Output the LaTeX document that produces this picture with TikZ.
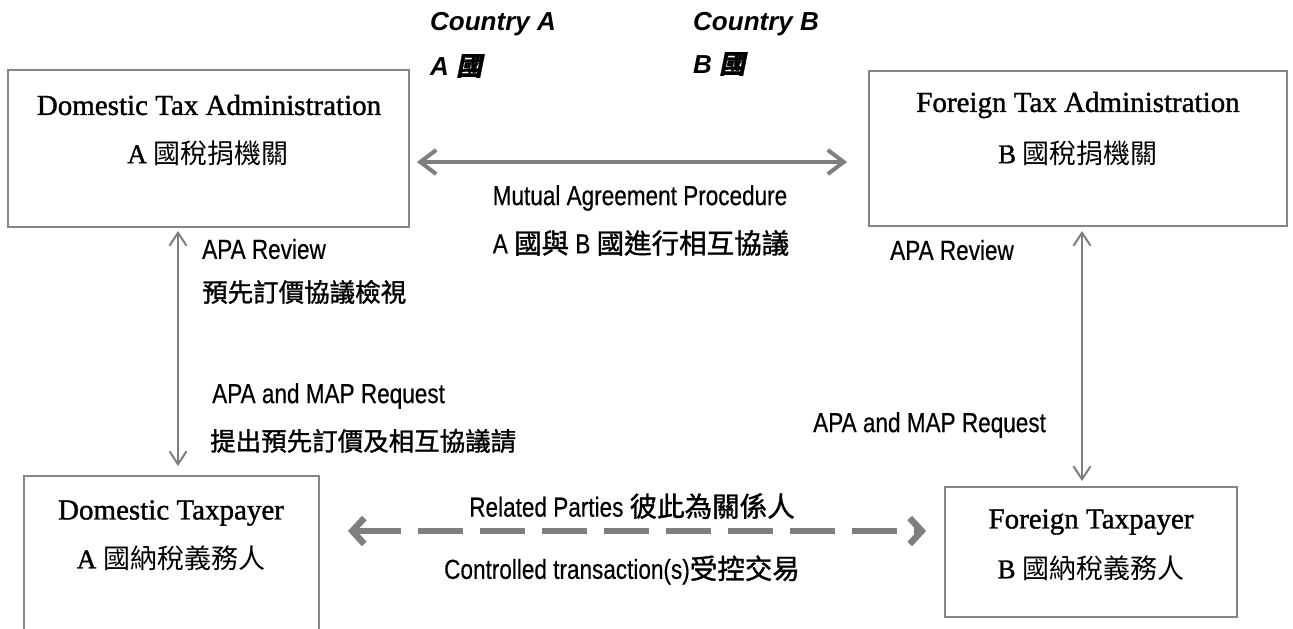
\documentclass[tikz,border=0pt]{standalone}
\usepackage{fontspec}
\setmainfont{Liberation Serif}
\newfontfamily\boxfont[FakeBold=1.2]{Liberation Serif}
\newfontfamily\labfont[FakeStretch=0.82, FakeBold=0.4]{Liberation Sans}
\newfontfamily\headfont{Liberation Sans}
\newfontfamily\cjk{Noto Sans CJK TC}
\newfontfamily\cjkmed[FakeBold=1.2]{Noto Sans CJK TC}
\newfontfamily\cjkslant[FakeSlant=0.2, FakeBold=1]{Noto Sans CJK TC}
\usetikzlibrary{arrows.meta}
\definecolor{linegray}{HTML}{7F7F7F}
\definecolor{boxgray}{HTML}{858585}
\tikzset{
  x=1pt, y=-1pt,
  party/.style={draw=boxgray, line width=1.8pt, rectangle, inner sep=0pt},
  boxtitle/.style={inner sep=0pt, font=\boxfont\fontsize{29}{34}\selectfont},
  boxsub/.style={inner sep=0pt, font=\boxfont\fontsize{27}{32}\selectfont},
  lab/.style={inner sep=0pt, font=\labfont\fontsize{27.5}{32}\selectfont},
  labcjk/.style={inner sep=0pt, font=\cjkmed\fontsize{25.5}{30}\selectfont},
  country/.style={inner sep=0pt, anchor=west, font=\headfont\bfseries\itshape\fontsize{26}{30}\selectfont},
  twoway/.style={draw=linegray, line width=4pt,
    {Straight Barb[length=16pt, width=24pt]}-{Straight Barb[length=16pt, width=24pt]}},
  review/.style={draw=linegray, line width=2pt,
    {Straight Barb[length=13pt, width=17pt]}-{Straight Barb[length=13pt, width=17pt]}},
  related/.style={draw=linegray, line width=6.5pt, dash pattern=on 45pt off 17pt,
    {Straight Barb[length=12pt, width=26pt]}-{Straight Barb[length=12pt, width=26pt]}},
}
\begin{document}
\begin{tikzpicture}
\clip (0,0) rectangle (1293,629);
\fill[white] (0,0) rectangle (1293,629);

% the four parties
\node[party, minimum width=401pt, minimum height=157pt] (domadm) at (208.5,148.5) {};
\node[party, minimum width=418pt, minimum height=155pt] (foradm) at (1078,148.5) {};
\node[party, minimum width=295pt, minimum height=190pt] (dompay) at (171.5,571) {};
\node[party, minimum width=292pt, minimum height=130pt] (forpay) at (1091,552) {};

% texts inside the boxes
\node[boxtitle] (domadmT) at (209,105) {Domestic Tax Administration};
\node[boxsub]   (domadmS) at (208,153) {A \cjk 國稅捐機關};
\node[boxtitle] (foradmT) at (1078,105) {Foreign Tax Administration};
\node[boxsub]   (foradmS) at (1078,153) {B \cjk 國稅捐機關};
\node[boxtitle] (dompayT) at (171,513) {Domestic Taxpayer};
\node[boxsub]   (dompayS) at (171,558) {A \cjk 國納稅義務人};
\node[boxtitle] (forpayT) at (1091,522) {Foreign Taxpayer};
\node[boxsub]   (forpayS) at (1091,568) {B \cjk 國納稅義務人};

% country headings
\node[country] (ctyA)  at (430,24) {Country A};
\node[country] (ctyAc) at (430,66) {A {\cjkslant 國}};
\node[country] (ctyB)  at (693,24) {Country B};
\node[country] (ctyBc) at (693,64) {B {\cjkslant 國}};

% mutual agreement procedure between the administrations
\coordinate (mapy) at (0,162);
\draw[twoway, shorten <=7pt, shorten >=21pt] (domadm.east |- mapy) -- (foradm.west |- mapy);
\node[lab] (mapEn) at (640,198) {Mutual Agreement Procedure};
\node[lab] (mapZh) at (641,243) {A {\cjkmed 國與} B {\cjkmed 國進行相互協議}};

% domestic side: review and request
\coordinate (lx) at (178,0);
\draw[review, shorten <=3pt, shorten >=9pt] (domadm.south -| lx) -- (dompay.north -| lx);
\node[lab, anchor=west] (revA)   at (202,249) {APA Review};
\node[labcjk, anchor=west] (revAz) at (202,292) {預先訂價協議檢視};
\node[lab, anchor=west] (reqA)   at (212,396) {APA and MAP Request};
\node[labcjk, anchor=west] (reqAz) at (210,441) {提出預先訂價及相互協議請};

% foreign side: review and request
\coordinate (rx) at (1082,0);
\draw[review, shorten <=4pt, shorten >=5pt] (foradm.south -| rx) -- (forpay.north -| rx);
\node[lab, anchor=west] (revB) at (890,250) {APA Review};
\node[lab, anchor=west] (reqB) at (813,425) {APA and MAP Request};

% related parties and their controlled transactions
\coordinate (rely) at (0,531);
\draw[related, shorten <=28pt, shorten >=18pt] (dompay.east |- rely) -- (forpay.west |- rely);
\node[lab] (relEn) at (632,506) {Related Parties {\cjkmed 彼此為關係人}};
\node[lab] (ctEn)  at (622,570) {Controlled transaction(s){\cjkmed 受控交易}};
\end{tikzpicture}
\end{document}
